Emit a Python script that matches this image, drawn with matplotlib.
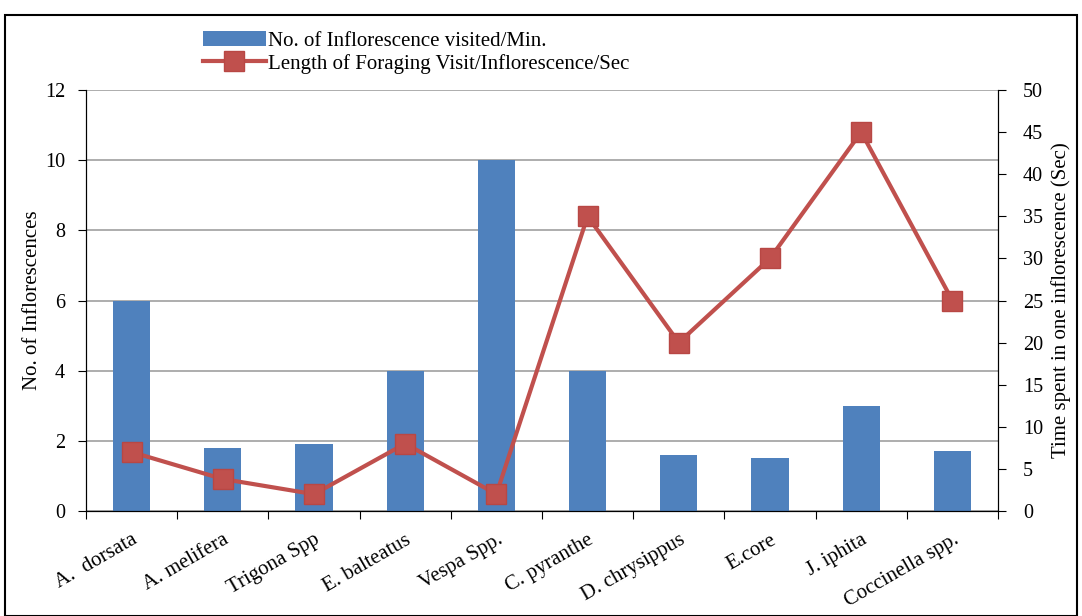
import matplotlib
matplotlib.use("Agg")
import matplotlib.pyplot as plt
from matplotlib.patches import Rectangle
import numpy as np

categories = ["A.  dorsata", "A. melifera", "Trigona Spp", "E. balteatus", "Vespa Spp.",
              "C. pyranthe", "D. chrysippus", "E.core", "J. iphita", "Coccinella spp."]
visits = [6, 1.8, 1.9, 4, 10, 4, 1.6, 1.5, 3, 1.7]
duration = [7, 3.8, 2, 8, 2, 35, 20, 30, 45, 25]

plt.rcParams['font.family'] = ['Liberation Serif', 'DejaVu Serif']
plt.rcParams['font.size'] = 14.5

fig = plt.figure(figsize=(10.82, 6.16), dpi=100)
ax = fig.add_axes([86/1082, 1-511/616, (998-86)/1082, (511-90)/616])
x = np.arange(len(categories))
bars = ax.bar(x, visits, width=0.41, color='#4F81BD', zorder=2,
              label='No. of Inflorescence visited/Min.')
ax.set_xlim(-0.5, len(categories)-0.5)
ax.set_ylim(0, 12)
ax.set_yticks(range(0, 13, 2))
ax.yaxis.grid(True, color='#A0A0A0', linewidth=1.2, zorder=0)
ax.set_axisbelow(True)
ax.set_xticks(np.arange(-0.5, len(categories), 1.0))
ax.set_xticklabels([])
ax.set_xticks(x, minor=True)
ax.set_xticklabels(categories, minor=True, rotation=30, ha='right',
                   rotation_mode='anchor', fontsize=15)
ax.tick_params(axis='x', which='minor', length=0, pad=14)
ax.tick_params(axis='x', which='major', length=6, direction='out')
ax.tick_params(axis='y', length=6, direction='out', pad=9, labelsize=14.5)
ax.spines['top'].set_visible(False)
ax.set_ylabel('No. of Inflorescences', fontsize=15, labelpad=2)

ax2 = ax.twinx()
line, = ax2.plot(x, duration, color='#C0504D', linewidth=3, marker='s',
                 markersize=15, markerfacecolor='#C0504D', markeredgecolor='#B84744',
                 label='Length of Foraging Visit/Inflorescence/Sec', zorder=3)
ax2.set_ylim(0, 50)
ax2.set_yticks(range(0, 51, 5))
ax2.tick_params(axis='y', length=6, direction='out', pad=12, labelsize=14.5)
ax2.spines['top'].set_visible(False)
ax2.set_ylabel('Time spent in one inflorescence (Sec)', fontsize=15, labelpad=6)

fig.legend(handles=[bars, line], loc='upper left', bbox_to_anchor=(203/1082, 1-31/616),
           frameon=False, fontsize=15, handlelength=3.0, handletextpad=0.1,
           labelspacing=0.15, borderaxespad=0, borderpad=0)

fig.patches.append(Rectangle((5/1082, 0), 1072/1082, 1-15/616, transform=fig.transFigure,
                             fill=False, edgecolor='black', linewidth=1.5))
fig.savefig('out.png', dpi=100)
